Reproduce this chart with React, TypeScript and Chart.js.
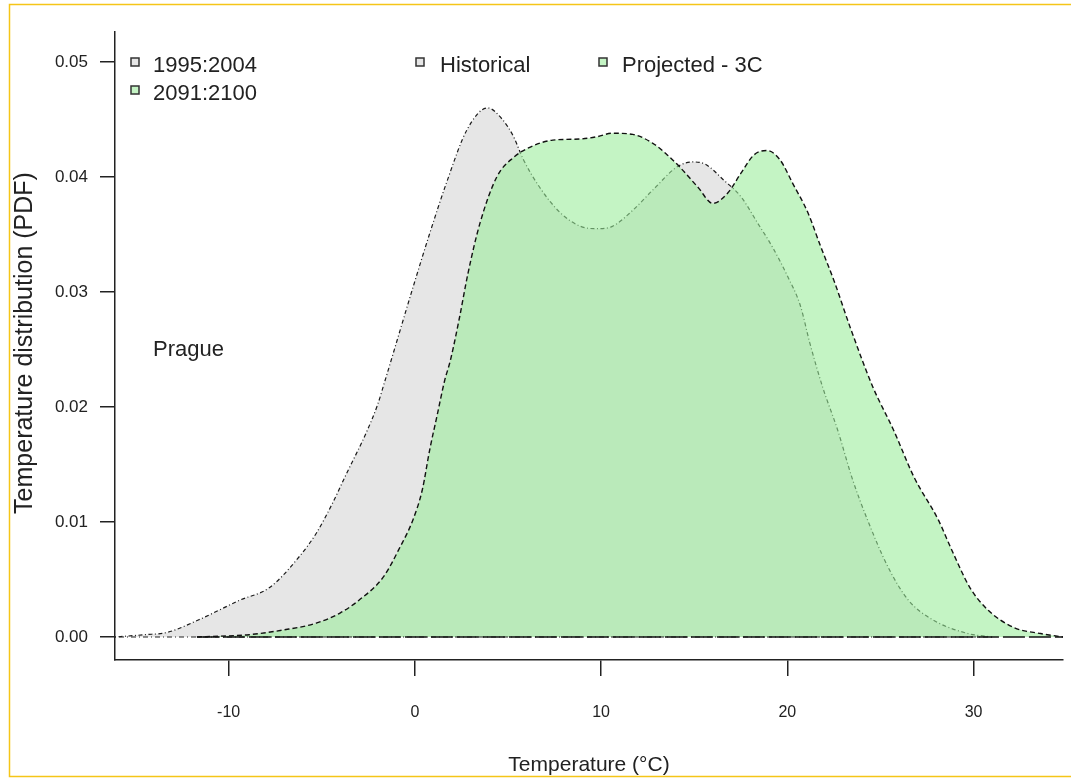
import { useEffect, useRef } from "react";
import { Chart, registerables } from "chart.js";

Chart.register(...registerables);

// Historical period 1995:2004 (density curve)
const histTemp = [-16.1, -14.5, -13.3, -11.6, -9.4, -7.8, -6.2, -5.3, -4.4, -3.7, -2.6, -2.0, -1.6, -0.1, 0.8, 1.7, 2.8, 3.9, 4.7, 5.3, 5.8, 6.7, 7.8, 8.9, 9.8, 10.6, 11.7, 12.8, 14.1, 14.9, 15.6, 16.6, 17.5, 18.4, 19.2, 20.0, 20.7, 21.2, 21.9, 22.7, 23.5, 24.3, 25.4, 26.5, 27.8, 29.7, 31.0];
const histPdf = [0, 0.0002, 0.0004, 0.0015, 0.0032, 0.0043, 0.007, 0.009, 0.0117, 0.0141, 0.0178, 0.0202, 0.0223, 0.0304, 0.0351, 0.0395, 0.0441, 0.046, 0.045, 0.0435, 0.0416, 0.0391, 0.0369, 0.0357, 0.0355, 0.0357, 0.0371, 0.0389, 0.0409, 0.0413, 0.0411, 0.0397, 0.0383, 0.036, 0.0339, 0.0314, 0.0288, 0.0256, 0.0217, 0.018, 0.0137, 0.0102, 0.0061, 0.0032, 0.0015, 0.0003, 0];

// Projected 2091:2100 (+3C)
const projTemp = [-11.7, -10.0, -8.9, -7.1, -5.3, -4.0, -3.0, -1.7, -0.8, -0.1, 0.4, 0.8, 1.2, 1.6, 1.9, 2.4, 2.85, 3.5, 4.4, 5.3, 6.2, 7.4, 8.9, 9.8, 10.6, 11.7, 12.8, 13.5, 14.2, 15.2, 16.0, 16.8, 17.5, 18.2, 18.9, 19.6, 20.3, 21.1, 21.8, 22.5, 23.4, 24.6, 25.7, 26.8, 28.1, 28.9, 29.8, 30.8, 32.2, 33.6, 34.8];
const projPdf = [0, 0.0001, 0.0002, 0.0006, 0.0012, 0.0021, 0.0032, 0.0052, 0.0078, 0.0102, 0.0128, 0.0163, 0.0193, 0.0223, 0.024, 0.0278, 0.0316, 0.036, 0.04, 0.0417, 0.0426, 0.0432, 0.0433, 0.0435, 0.0438, 0.0437, 0.0429, 0.042, 0.0409, 0.0391, 0.0377, 0.0386, 0.0403, 0.0419, 0.0423, 0.0415, 0.0394, 0.0369, 0.0339, 0.031, 0.0268, 0.0217, 0.018, 0.0139, 0.0102, 0.0073, 0.0043, 0.0023, 0.0008, 0.0003, 0];

const xTicks = [-10, 0, 10, 20, 30];
const yTicks = [0, 0.01, 0.02, 0.03, 0.04, 0.05];
const xMin = -16.1;
const xMax = 34.8;
const yMin = -0.002;
const yMax = 0.0526;

const periodLabels = ["1995:2004", "2091:2100"];
const seriesLabels = ["Historical", "Projected - 3C"];
const cityLabel = "Prague";
const xTitle = "Temperature (°C)";
const yTitle = "Temperature distribution (PDF)";

const HIST_FILL = "#e6e6e6";
const PROJ_FILL = "rgba(153,236,153,0.58)";
const PROJ_MARK = "#c4f4c4";
const FONT = "'Liberation Sans', Arial, sans-serif";

const toPoints = (xs: number[], ys: number[]) => xs.map((x, i) => ({ x, y: ys[i] }));

const decor = {
  id: "decor",
  beforeDraw(chart: any) {
    const { ctx, width, height } = chart;
    ctx.save();
    ctx.fillStyle = "#ffffff";
    ctx.fillRect(0, 0, width, height);
    ctx.strokeStyle = "#f5c518";
    ctx.lineWidth = 1.5;
    ctx.beginPath();
    ctx.moveTo(width, 4.5);
    ctx.lineTo(9.5, 4.5);
    ctx.lineTo(9.5, 776.5);
    ctx.lineTo(width, 776.5);
    ctx.stroke();
    ctx.restore();
  },
  afterDraw(chart: any) {
    const { ctx, chartArea } = chart;
    ctx.save();
    ctx.fillStyle = "#222";
    ctx.textBaseline = "middle";
    ctx.textAlign = "left";
    ctx.font = `22px ${FONT}`;

    const marker = (x: number, y: number, fill: string) => {
      ctx.fillStyle = fill;
      ctx.fillRect(x, y - 4, 8, 8);
      ctx.strokeStyle = "#333";
      ctx.lineWidth = 1.5;
      ctx.strokeRect(x, y - 4, 8, 8);
      ctx.fillStyle = "#222";
    };

    marker(131, 62, HIST_FILL);
    ctx.fillText(periodLabels[0], 153, 66);
    marker(131, 90, PROJ_MARK);
    ctx.fillText(periodLabels[1], 153, 94);

    marker(416, 62, HIST_FILL);
    ctx.fillText(seriesLabels[0], 440, 66);
    marker(599, 62, PROJ_MARK);
    ctx.fillText(seriesLabels[1], 622, 66);

    ctx.fillText(cityLabel, 153, 350);

    ctx.textAlign = "center";
    ctx.font = `21px ${FONT}`;
    ctx.fillText(xTitle, (chartArea.left + chartArea.right) / 2, 765);

    ctx.save();
    ctx.translate(25, (chartArea.top + chartArea.bottom) / 2 - 3);
    ctx.rotate(-Math.PI / 2);
    ctx.font = `25px ${FONT}`;
    ctx.fillText(yTitle, 0, 0);
    ctx.restore();
    ctx.restore();
  },
};

export default function App() {
  const ref = useRef<HTMLCanvasElement>(null);
  useEffect(() => {
    if (!ref.current) return;
    const chart = new Chart(ref.current, {
      type: "line",
      data: {
        datasets: [
          {
            label: "proj-base",
            data: [{ x: projTemp[0], y: 0 }, { x: projTemp[projTemp.length - 1], y: 0 }],
            borderColor: "#111",
            borderWidth: 1.5,
            borderDash: [22, 4],
            pointRadius: 0,
            fill: false,
          },
          {
            label: "hist-base",
            data: [{ x: histTemp[0], y: 0 }, { x: histTemp[histTemp.length - 1], y: 0 }],
            borderColor: "#222",
            borderWidth: 1.2,
            borderDash: [1, 3, 5, 3],
            pointRadius: 0,
            fill: false,
          },
          {
            label: seriesLabels[1],
            data: toPoints(projTemp, projPdf),
            borderColor: "#111",
            borderWidth: 1.4,
            borderDash: [5, 3],
            backgroundColor: PROJ_FILL,
            fill: "origin",
            pointRadius: 0,
            cubicInterpolationMode: "monotone",
          },
          {
            label: seriesLabels[0],
            data: toPoints(histTemp, histPdf),
            borderColor: "#1a1a1a",
            borderWidth: 1.2,
            borderDash: [1, 2.5, 4, 2.5],
            backgroundColor: HIST_FILL,
            fill: "origin",
            pointRadius: 0,
            cubicInterpolationMode: "monotone",
          },
        ],
      },
      options: {
        responsive: false,
        animation: false,
        devicePixelRatio: 1,
        layout: { padding: { top: 32, right: 8, left: 0, bottom: 0 } },
        plugins: { legend: { display: false }, tooltip: { enabled: false } },
        scales: {
          x: {
            type: "linear",
            min: xMin,
            max: xMax,
            afterBuildTicks: (s: any) => {
              s.ticks = xTicks.map((v) => ({ value: v }));
            },
            afterFit: (s: any) => {
              s.height = 120;
            },
            border: { display: true, color: "#222", width: 1.5 },
            grid: { display: true, drawOnChartArea: false, drawTicks: true, tickLength: 16, color: "#222", lineWidth: 1.5 },
            ticks: {
              color: "#222",
              font: { family: FONT, size: 16 },
              padding: 27,
              maxRotation: 0,
              callback: (v: any) => String(v),
            },
          },
          y: {
            type: "linear",
            min: yMin,
            max: yMax,
            afterBuildTicks: (s: any) => {
              s.ticks = yTicks.map((v) => ({ value: v }));
            },
            afterFit: (s: any) => {
              s.width = 115;
            },
            border: { display: true, color: "#222", width: 1.5 },
            grid: { display: true, drawOnChartArea: false, drawTicks: true, tickLength: 15, color: "#222", lineWidth: 1.5 },
            ticks: {
              color: "#222",
              font: { family: FONT, size: 17 },
              padding: 12,
              callback: (v: any) => Number(v).toFixed(2),
            },
          },
        },
      },
      plugins: [decor],
    } as any);
    return () => chart.destroy();
  }, []);

  return (
    <div style={{ position: "fixed", left: 0, top: 0, width: 1071, height: 780 }}>
      <canvas ref={ref} width={1071} height={780} />
    </div>
  );
}
